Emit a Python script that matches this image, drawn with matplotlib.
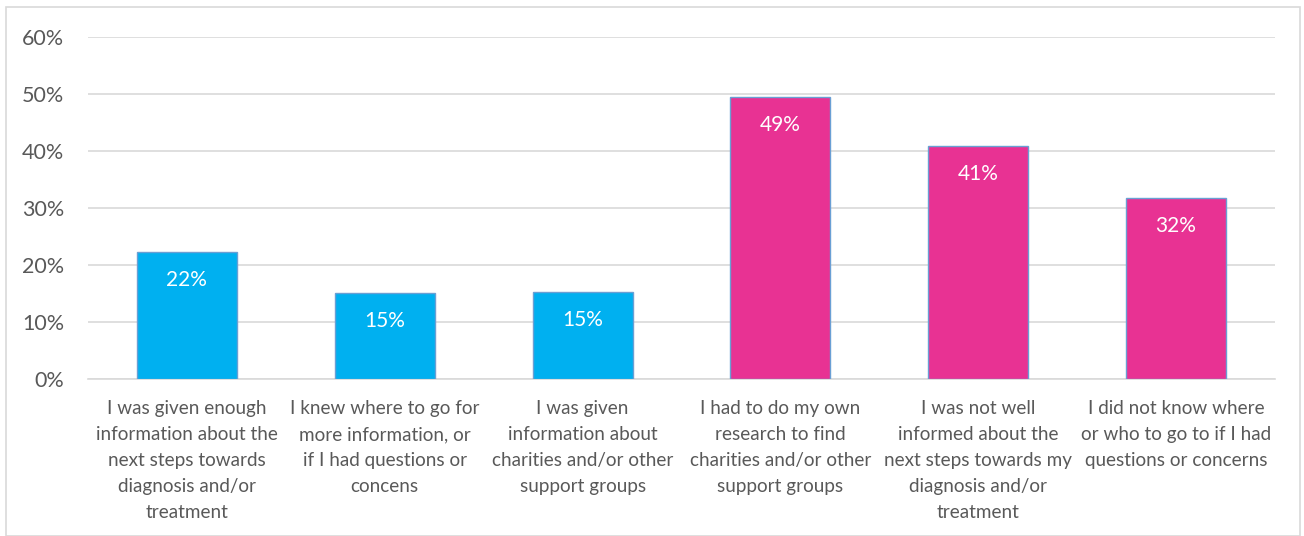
import matplotlib
matplotlib.use("Agg")
import matplotlib.pyplot as plt
from matplotlib.patches import Rectangle
from matplotlib.ticker import FuncFormatter, MultipleLocator

plt.rcParams['font.family'] = ['Lato', 'DejaVu Sans']

categories = [
    "I was given enough\ninformation about the\nnext steps towards\ndiagnosis and/or\ntreatment",
    "I knew where to go for\nmore information, or\nif I had questions or\nconcens",
    "I was given\ninformation about\ncharities and/or other\nsupport groups",
    "I had to do my own\nresearch to find\ncharities and/or other\nsupport groups",
    "I was not well\ninformed about the\nnext steps towards my\ndiagnosis and/or\ntreatment",
    "I did not know where\nor who to go to if I had\nquestions or concerns",
]
values = [22.3, 15.1, 15.3, 49.4, 40.9, 31.8]
colors = ["#00B0F0", "#00B0F0", "#00B0F0", "#E83293", "#E83293", "#E83293"]

TEXT = "#595959"

W, H = 1304, 536
fig = plt.figure(figsize=(W / 100, H / 100), dpi=100)
ax = fig.add_axes([88 / W, 1 - 379 / H, (1275 - 88) / W, (379 - 37) / H])

x = range(len(categories))
bars = ax.bar(x, values, width=0.505, color=colors, edgecolor="#6A9FD4", linewidth=1.0, zorder=3)

for rect, v in zip(bars, values):
    ax.annotate(f"{v:.0f}%", (rect.get_x() + rect.get_width() / 2, rect.get_height()),
                xytext=(0, -28), textcoords="offset pixels",
                ha="center", va="center", color="white", fontsize=15, zorder=4)

ax.set_ylim(0, 60)
ax.set_xlim(-0.5, len(categories) - 0.5)
ax.yaxis.set_major_locator(MultipleLocator(10))
ax.yaxis.set_major_formatter(FuncFormatter(lambda v, p: f"{v:.0f}%"))
ax.grid(axis="y", color="#D9D9D9", linewidth=1.2, zorder=0)
ax.set_axisbelow(True)
for s in ["top", "right", "left"]:
    ax.spines[s].set_visible(False)
ax.spines["bottom"].set_color("#D9D9D9")
ax.spines["bottom"].set_linewidth(1.2)
ax.tick_params(axis="both", length=0, colors=TEXT)
ax.tick_params(axis="y", pad=17, labelsize=15.5)
ax.set_xticks(list(x))
ax.set_xticklabels(categories, linespacing=1.65, fontsize=13.6, color=TEXT)
ax.tick_params(axis="x", pad=15)

fig.patches.append(Rectangle((6 / W, 0), (1300 - 6) / W, 1 - 7 / H, transform=fig.transFigure,
                             fill=False, edgecolor="#D9D9D9", linewidth=1.2))

fig.savefig("out.png", dpi=100, facecolor="white")
